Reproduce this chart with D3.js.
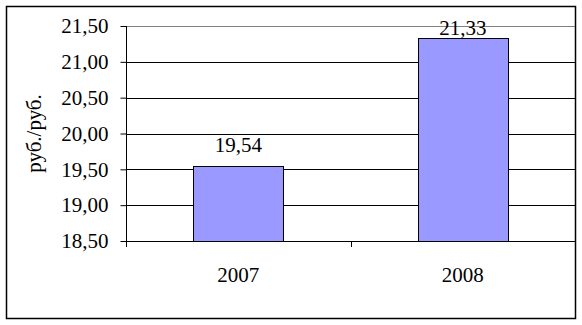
<!DOCTYPE html>
<html>
<head>
<meta charset="utf-8">
<script src="https://cdn.jsdelivr.net/npm/d3@7"></script>
<style>
body { margin: 0; background: #fff; }
text { font-family: "Liberation Serif", "Times New Roman", serif; fill: #000; }
</style>
</head>
<body>
<script>
var years = ["2007", "2008"];
var values = [19.54, 21.33];
var yTicks = [18.5, 19.0, 19.5, 20.0, 20.5, 21.0, 21.5];

var width = 582, height = 325;
var plotLeft = 126, plotRight = 575, plotTop = 26, plotBottom = 241;
var fontFam = "'Liberation Serif', 'Times New Roman', serif";

var svg = d3.select("body").append("svg")
    .attr("width", width)
    .attr("height", height);

// outer frame
svg.append("rect")
    .attr("x", 6.5).attr("y", 6.5)
    .attr("width", 569).attr("height", 312)
    .attr("fill", "#fff")
    .attr("stroke", "#000")
    .attr("stroke-width", 1.5);

var x = d3.scaleBand().domain(years).range([plotLeft, plotRight])
    .paddingInner(0.6).paddingOuter(0.3);
var xGroup = d3.scaleBand().domain(years).range([plotLeft, plotRight]);
var y = d3.scaleLinear().domain([18.5, 21.5]).range([plotBottom, plotTop]);

var fmt = function (d) { return d3.format(".2f")(d).replace(".", ","); };

// gridlines
svg.append("g").selectAll("line")
    .data(yTicks.slice(1))
    .enter().append("line")
    .attr("x1", plotLeft).attr("x2", plotRight)
    .attr("y1", function (d) { return Math.round(y(d)) + 0.5; })
    .attr("y2", function (d) { return Math.round(y(d)) + 0.5; })
    .attr("stroke", function (d) { return d === 21.5 ? "#808080" : "#000"; })
    .attr("stroke-width", 1);

// bars
svg.append("g").selectAll("rect")
    .data(values)
    .enter().append("rect")
    .attr("x", function (d, i) { return Math.round(x(years[i])) + 0.5; })
    .attr("y", function (d) { return Math.round(y(d)) + 0.5; })
    .attr("width", Math.round(x.bandwidth()))
    .attr("height", function (d) { return Math.round(y(18.5)) - Math.round(y(d)); })
    .attr("fill", "#9999ff")
    .attr("stroke", "#000")
    .attr("stroke-width", 1);

// value labels (kept inside the frame)
svg.append("g").selectAll("text")
    .data(values)
    .enter().append("text")
    .attr("x", function (d, i) { return x(years[i]) + x.bandwidth() / 2; })
    .attr("y", function (d) { return Math.max(y(d) - 14, plotTop + 9); })
    .attr("text-anchor", "middle")
    .attr("font-size", "21px")
    .text(fmt);

// y axis
var yAxis = svg.append("g")
    .attr("transform", "translate(" + (plotLeft + 0.5) + ",0)")
    .call(d3.axisLeft(y).tickValues(yTicks).tickFormat(fmt).tickSize(6).tickPadding(12));
yAxis.selectAll("path, line").attr("stroke", "#000");
yAxis.select(".domain").attr("d", "M0," + plotTop + "V" + Math.round(plotBottom));
yAxis.selectAll("text").attr("font-size", "21px")
    .attr("font-family", fontFam).attr("fill", "#000");

// x axis
var xAxis = svg.append("g")
    .attr("transform", "translate(0," + (Math.round(plotBottom) + 0.5) + ")")
    .call(d3.axisBottom(xGroup).tickSize(0).tickPadding(26));
xAxis.select(".domain").attr("stroke", "#000").attr("d", "M" + plotLeft + ",0H" + plotRight);
xAxis.selectAll("text").attr("font-size", "21px")
    .attr("font-family", fontFam).attr("fill", "#000");
// category dividers
svg.append("g").selectAll("line")
    .data(years.concat(["end"]))
    .enter().append("line")
    .attr("x1", function (d, i) { return Math.round(plotLeft + i * xGroup.step()) + 0.5; })
    .attr("x2", function (d, i) { return Math.round(plotLeft + i * xGroup.step()) + 0.5; })
    .attr("y1", Math.round(plotBottom)).attr("y2", Math.round(plotBottom) + 6)
    .attr("stroke", "#000");

// y title
svg.append("text")
    .attr("transform", "translate(41," + ((plotTop + plotBottom) / 2) + ") rotate(-90)")
    .attr("text-anchor", "middle")
    .attr("font-size", "21px")
    .text("руб./руб.");
</script>
</body>
</html>
